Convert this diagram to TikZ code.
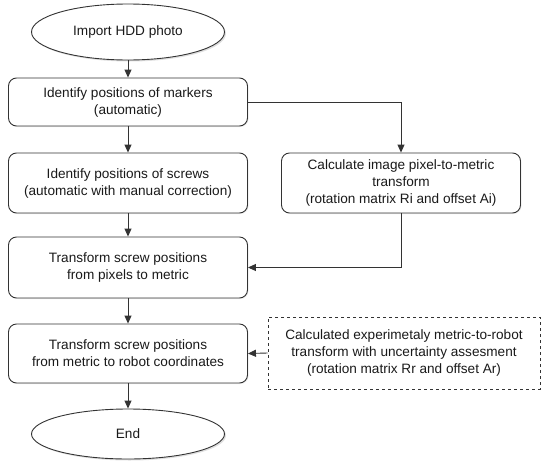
\documentclass[tikz,border=0pt]{standalone}
\usepackage{fontspec}
\setmainfont{Liberation Sans}
\usetikzlibrary{arrows.meta,shapes.geometric,shadows}
\definecolor{Ink}     {HTML}{1A1A1A}
\definecolor{EdgeGrey}{HTML}{333333}

\tikzset{
  stepbox/.style={draw=EdgeGrey, line width=0.9pt, rounded corners=8pt, fill=white,
                  align=center, minimum width=239pt, inner sep=2pt,
                  drop shadow={opacity=0.15, shadow xshift=1pt, shadow yshift=-1pt}},
  termnode/.style={draw=EdgeGrey, line width=0.9pt, ellipse, fill=white,
                   minimum width=193pt, minimum height=56pt,
                   drop shadow={opacity=0.25, shadow xshift=1.5pt, shadow yshift=-1.5pt}},
  inputbox/.style={draw=EdgeGrey, line width=0.7pt, dashed, align=center,
                   minimum width=272pt, minimum height=72pt, inner sep=2pt},
  flow/.style={-{Triangle[length=8pt,width=7pt]}, line width=0.9pt, EdgeGrey}
}

\begin{document}
\begin{tikzpicture}[x=1pt, y=-1pt, font=\fontsize{13.6}{17}\selectfont, text=Ink]
  \useasboundingbox (0,0) rectangle (543,461);

  % ===== MAIN COLUMN =====
  \node[termnode] (start) at (128,32) {Import HDD photo};
  \node[stepbox, minimum height=48pt] (markers) at (128,102)
        {Identify positions of markers\\(automatic)};
  \node[stepbox, minimum height=60pt] (screws) at (128,183)
        {Identify positions of screws\\(automatic with manual correction)};
  \node[stepbox, minimum height=61pt] (tometric) at (128,267.5)
        {Transform screw positions\\from pixels to metric};
  \node[stepbox, minimum height=59pt] (torobot) at (128,353.5)
        {Transform screw positions\\from metric to robot coordinates};
  \node[termnode, minimum height=50pt] (end) at (128,434) {End};

  % ===== SIDE COLUMN =====
  \node[stepbox, minimum height=60pt] (calib) at (401,183)
        {Calculate image pixel-to-metric\\transform\\(rotation matrix Ri and offset Ai)};
  \node[inputbox] (robotcal) at (404,353)
        {Calculated experimetaly metric-to-robot\\transform with uncertainty assesment\\(rotation matrix Rr and offset Ar)};

  % ===== CONNECTORS =====
  \draw[flow] (start) -- (markers);
  \draw[flow] (markers) -- (screws);
  \draw[flow] (screws) -- (tometric);
  \draw[flow] (tometric) -- (torobot);
  \draw[flow] (torobot) -- (end);
  \draw[flow] (markers.east) -| (calib.north);
  \draw[flow] (calib.south) |- (tometric.east);
  \draw[flow] (robotcal.west) -- (torobot.east);

\end{tikzpicture}
\end{document}
